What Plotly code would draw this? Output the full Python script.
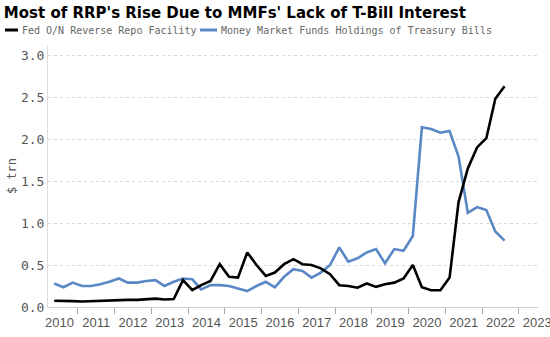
import pandas as pd
import plotly.graph_objects as go

# Quarterly observations, Q2 2010 .. Q3 2022 (50 points)
dates = pd.date_range("2010-05-01", periods=50, freq="3MS")

rrp = [0.075, 0.075, 0.07, 0.065, 0.07, 0.07, 0.08, 0.085, 0.085, 0.085,
       0.09, 0.10, 0.09, 0.095, 0.32, 0.20, 0.26, 0.31, 0.51, 0.36,
       0.35, 0.65, 0.50, 0.37, 0.41, 0.51, 0.57, 0.51, 0.50, 0.46,
       0.39, 0.26, 0.25, 0.23, 0.28, 0.24, 0.27, 0.29, 0.34, 0.50,
       0.235, 0.20, 0.20, 0.35, 1.25, 1.65, 1.90, 2.01, 2.48, 2.63]

mmf = [0.28, 0.235, 0.29, 0.25, 0.25, 0.27, 0.30, 0.34, 0.29, 0.29,
       0.31, 0.32, 0.25, 0.30, 0.34, 0.33, 0.21, 0.26, 0.26, 0.25,
       0.22, 0.19, 0.25, 0.30, 0.235, 0.36, 0.45, 0.43, 0.35, 0.41,
       0.50, 0.71, 0.54, 0.58, 0.65, 0.69, 0.52, 0.69, 0.67, 0.845,
       2.14, 2.12, 2.075, 2.095, 1.79, 1.12, 1.19, 1.155, 0.90, 0.79]

years = [2010, 2011, 2012, 2013, 2014, 2015, 2016, 2017, 2018, 2019,
         2020, 2021, 2022, 2023]

series_names = ["Fed O/N Reverse Repo Facility",
                "Money Market Funds Holdings of Treasury Bills"]
series_colors = ["#000000", "#5a88c6"]

y_ticks = [0.0, 0.5, 1.0, 1.5, 2.0, 2.5, 3.0]

title_text = "Most of RRP's Rise Due to MMFs' Lack of T-Bill Interest"
y_title = "$ trn"

# decimal-year positions for the quarterly dates
t = [d.year + (d.dayofyear - 1) / 365.25 + 0.03 for d in dates]

x_range = [2010.19, 2023.52]

fig = go.Figure()
fig.add_trace(go.Scatter(x=t, y=mmf, mode="lines", name=series_names[1],
                         xaxis="x", yaxis="y",
                         line=dict(color=series_colors[1], width=2.6)))
fig.add_trace(go.Scatter(x=t, y=rrp, mode="lines", name=series_names[0],
                         xaxis="x2", yaxis="y",
                         line=dict(color=series_colors[0], width=2.6)))

mono = "DejaVu Sans Mono"

# plot-area geometry used for placing the hand-drawn legend
L, R, T, B = 48, 12, 45, 30
PW, PH = 550 - L - R, 337 - T - B


def px(xpix):
    return (xpix - L) / PW


def py(ypix):
    return (337 - B - ypix) / PH


legend_items = [((5, 18), 20, series_names[0], series_colors[0]),
                ((200, 217), 219, series_names[1], series_colors[1])]
for (sx0, sx1), tx, name, col in legend_items:
    fig.add_shape(type="line", xref="paper", yref="paper",
                  x0=px(sx0), x1=px(sx1), y0=py(30), y1=py(30),
                  line=dict(color=col, width=3))
    fig.add_annotation(xref="paper", yref="paper", x=px(tx), y=py(30),
                       text=name, showarrow=False,
                       xanchor="left", yanchor="middle",
                       font=dict(family=mono, size=10, color="#666666"))

fig.update_layout(
    width=550, height=337,
    margin=dict(l=L, r=R, t=T, b=B),
    paper_bgcolor="white", plot_bgcolor="white",
    showlegend=False,
    title=dict(text="<b>" + title_text + "</b>", x=0.007, xanchor="left",
               y=0.962, yanchor="middle",
               font=dict(family="DejaVu Sans", size=15, color="#000000")),
    # primary x axis: year labels centred in each year
    xaxis=dict(range=x_range, automargin=False,
               tickmode="array", tickvals=[y + 0.5 for y in years],
               ticktext=[str(y) for y in years], ticks="",
               ticklabeloverflow="allow", ticklabelstandoff=3,
               showline=True, linecolor="#cccccc", linewidth=1,
               showgrid=False, zeroline=False,
               tickfont=dict(family="Liberation Sans", size=13,
                             color="#555555")),
    # overlay x axis: year-boundary tick marks only
    xaxis2=dict(range=x_range, overlaying="x", anchor="y", side="bottom",
                automargin=False,
                tickmode="array", tickvals=years, showticklabels=False,
                ticks="outside", ticklen=6, tickcolor="#aaaaaa", tickwidth=1,
                showline=False, showgrid=False, zeroline=False),
    yaxis=dict(range=[0, 3.12], tickvals=y_ticks, tickformat=".1f",
               automargin=False,
               showline=True, linecolor="#dddddd", linewidth=1,
               showgrid=True, gridcolor="#d8d8d8", griddash="dot", gridwidth=1,
               zeroline=False, ticks="",
               tickfont=dict(family=mono, size=13, color="#555555"),
               title=dict(text=y_title, standoff=1,
                          font=dict(family=mono, size=12, color="#555555"))),
)

fig.write_html("out.html")
